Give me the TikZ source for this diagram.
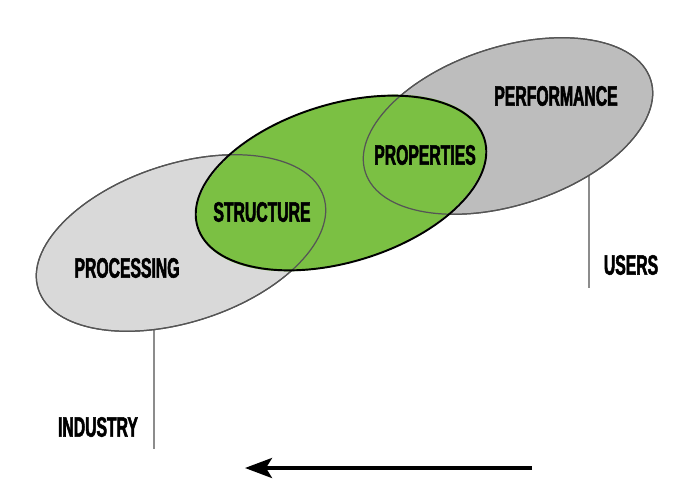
\documentclass[tikz,border=0pt]{standalone}
\usepackage{fontspec}
\setmainfont{Liberation Sans}[FakeStretch=0.56, FakeBold=1.8]
\usetikzlibrary{shapes.geometric,arrows.meta,backgrounds}

\definecolor{procgray}{HTML}{D9D9D9}
\definecolor{perfgray}{HTML}{BDBDBD}
\definecolor{coregreen}{HTML}{7BC043}
\definecolor{rimgray}{HTML}{555555}
\definecolor{leadgray}{HTML}{8C8C8C}

\tikzset{
  blob/.style={ellipse, minimum width=6cm, minimum height=3.16cm,
    inner sep=0pt, rotate=18},
  rim/.style={draw=rimgray, line width=0.7pt},
  lbl/.style={font=\fontsize{16}{18}\selectfont\bfseries, inner sep=0pt},
  lead/.style={draw=leadgray, line width=0.6pt}
}

\begin{document}
\begin{tikzpicture}[x=0.02cm, y=-0.02cm]
    \useasboundingbox (0,0) rectangle (685,493);
    % the three fields
    \node[blob, fill=procgray, rim] (proc) at (181,243) {};
    \node[blob, fill=perfgray, rim] (perf) at (508,126) {};
    \node[blob, fill=coregreen] (core) at (341,183) {};
    \node[blob, rim] (procrim) at (proc) {};
    \node[blob, rim] (perfrim) at (perf) {};
    \node[blob, draw=black, line width=1.1pt, rotate=-1] (corerim) at (core) {};
    % labels
    \node[lbl] (processing) at (127,268) {PROCESSING};
    \node[lbl] (structure) at (262,212) {STRUCTURE};
    \node[lbl] (properties) at (425,155) {PROPERTIES};
    \node[lbl] (performance) at (556,96) {PERFORMANCE};
    \node[lbl] (users) at (631,265) {USERS};
    \node[lbl] (industry) at (98,427) {INDUSTRY};
    % leads and arrow
    \coordinate (usersfoot) at (589,288);
    \coordinate (industryfoot) at (154,449);
    \coordinate (arrstart) at (532,468);
    \coordinate (arrend) at (245,468);
    \begin{scope}[on background layer]
        \draw[lead] (perf.center -| usersfoot) -- (usersfoot);
        \draw[lead] (proc.center -| industryfoot) -- (industryfoot);
    \end{scope}
    \draw[line width=2pt, -{Stealth[length=0.54cm, width=0.4cm, inset=0.12cm]}]
        (arrstart) -- (arrend);
\end{tikzpicture}
\end{document}
